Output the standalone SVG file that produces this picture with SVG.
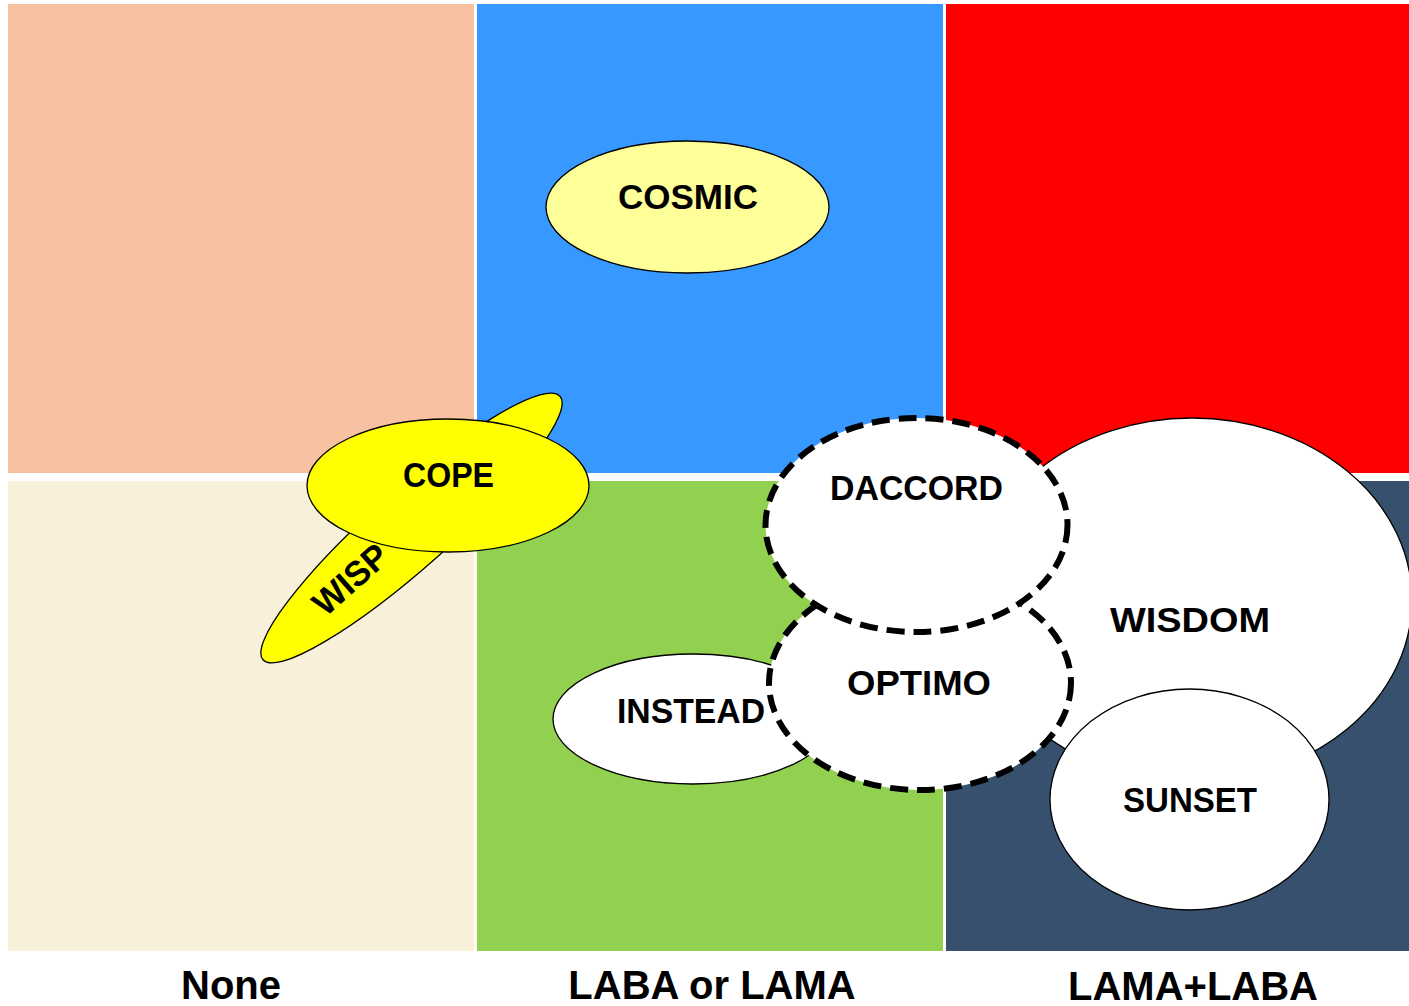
<svg xmlns="http://www.w3.org/2000/svg" width="1409" height="1006" viewBox="0 0 1409 1006">
  <style>
    .lbl { font-family: "Liberation Sans", Arial, sans-serif; font-weight: bold; font-size: 35px; fill: #000; text-anchor: middle; }
    .axis { font-family: "Liberation Sans", Arial, sans-serif; font-weight: bold; font-size: 40px; fill: #000; text-anchor: middle; }
    .solid { stroke: #000; stroke-width: 1.3; }
    .dashed { fill: #fff; stroke: #000; stroke-width: 6; stroke-dasharray: 18 9; }
  </style>
  <rect width="1409" height="1006" fill="#fff"/>

  <!-- quadrant background -->
  <g id="grid">
    <rect x="8" y="4" width="466" height="469" fill="#F8C1A1"/>
    <rect x="477" y="4" width="466" height="469" fill="#3799FF"/>
    <rect x="946" y="4" width="463" height="469" fill="#FF0000"/>
    <rect x="8" y="481" width="466" height="470" fill="#F8F0D8"/>
    <rect x="477" y="481" width="466" height="470" fill="#92D050"/>
    <rect x="946" y="481" width="463" height="470" fill="#36506E"/>
  </g>

  <!-- connectors (none in this chart) -->
  <g id="connectors"/>

  <g id="cosmic">
    <ellipse class="solid" cx="687.5" cy="207" rx="141.5" ry="66" fill="#FFFF99"/>
    <text class="lbl" x="688" y="209" textLength="140" lengthAdjust="spacingAndGlyphs">COSMIC</text>
  </g>

  <g id="wisp">
    <ellipse class="solid" cx="0" cy="0" rx="198.5" ry="38.7" fill="#FFFF00" transform="translate(411.5,528) rotate(-41.6)"/>
    <text class="lbl" x="0" y="12.5" transform="translate(350,579) rotate(-41.6)" textLength="88" lengthAdjust="spacingAndGlyphs">WISP</text>
  </g>

  <g id="cope">
    <ellipse class="solid" cx="448" cy="485.5" rx="141" ry="66.5" fill="#FFFF00"/>
    <text class="lbl" x="448.5" y="487" textLength="91" lengthAdjust="spacingAndGlyphs">COPE</text>
  </g>

  <g id="wisdom">
    <ellipse class="solid" cx="1192" cy="600" rx="220" ry="182" fill="#fff"/>
    <text class="lbl" x="1190" y="632" textLength="160" lengthAdjust="spacingAndGlyphs">WISDOM</text>
  </g>

  <g id="sunset">
    <ellipse class="solid" cx="1189.5" cy="799.5" rx="139.5" ry="110.5" fill="#fff"/>
    <text class="lbl" x="1190" y="812" textLength="134" lengthAdjust="spacingAndGlyphs">SUNSET</text>
  </g>

  <g id="instead">
    <ellipse class="solid" cx="693" cy="719" rx="140" ry="65" fill="#fff"/>
    <text class="lbl" x="691" y="723" textLength="148" lengthAdjust="spacingAndGlyphs">INSTEAD</text>
  </g>

  <g id="optimo">
    <ellipse class="dashed" cx="920" cy="683" rx="151" ry="107"/>
    <text class="lbl" x="919" y="695" textLength="144" lengthAdjust="spacingAndGlyphs">OPTIMO</text>
  </g>

  <g id="daccord">
    <ellipse class="dashed" cx="916.5" cy="525" rx="151" ry="107"/>
    <text class="lbl" x="916.5" y="500" textLength="173" lengthAdjust="spacingAndGlyphs">DACCORD</text>
  </g>

  <!-- column captions -->
  <g id="captions">
    <text class="axis" x="231" y="999">None</text>
    <text class="axis" x="712" y="999">LABA or LAMA</text>
    <text class="axis" x="1193" y="1000">LAMA+LABA</text>
  </g>
</svg>
